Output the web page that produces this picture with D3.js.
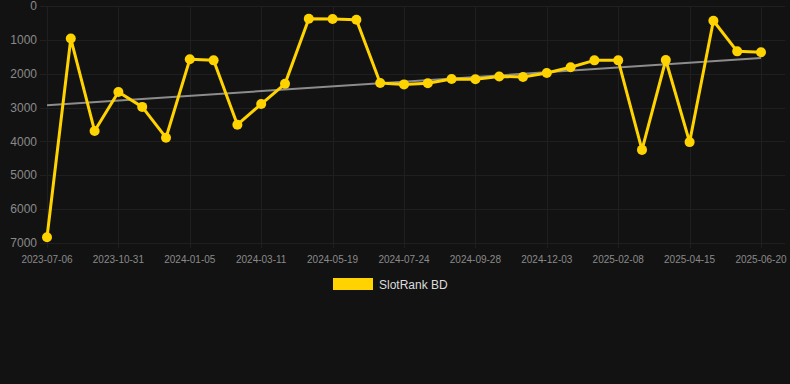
<!DOCTYPE html>
<html lang="en">
<head>
    <meta charset="utf-8">
    <title>SlotRank BD</title>
    <script src="https://d3js.org/d3.v7.min.js"></script>
    <style>
        html, body {
            margin: 0;
            padding: 0;
            background: #121212;
        }
        text {
            font-family: Arial, "Liberation Sans", sans-serif;
        }
        .grid line {
            stroke: #1f1f1f;
            stroke-width: 1px;
            shape-rendering: crispEdges;
        }
    </style>
</head>
<body>
<script type="text/javascript">

    // dates (only every 3rd one is labelled on the axis)
    var dates = [
        "2023-07-06", "2023-08-14", "2023-09-22", "2023-10-31", "2023-11-22", "2023-12-14",
        "2024-01-05", "2024-01-27", "2024-02-18", "2024-03-11", "2024-04-03", "2024-04-26",
        "2024-05-19", "2024-06-10", "2024-07-02", "2024-07-24", "2024-08-15", "2024-09-06",
        "2024-09-28", "2024-10-20", "2024-11-11", "2024-12-03", "2024-12-25", "2025-01-17",
        "2025-02-08", "2025-03-02", "2025-03-24", "2025-04-15", "2025-05-07", "2025-05-29",
        "2025-06-20"
    ];
    var ranks = [
        6830, 960, 3690, 2540, 2980, 3890,
        1575, 1605, 3505, 2895, 2300, 375,
        385, 405, 2275, 2315, 2280, 2155,
        2165, 2080, 2095, 1980, 1810, 1605,
        1605, 4250, 1595, 4020, 435, 1340,
        1365
    ];
    var yTicks = [0, 1000, 2000, 3000, 4000, 5000, 6000, 7000];
    var seriesName = "SlotRank BD";

    var w = 790, h = 384;
    var plotLeft = 47, plotRight = 761, plotTop = 6, plotBottom = 243;

    var svg = d3.select("body").append("svg")
        .attr("width", w)
        .attr("height", h);

    var xScale = d3.scalePoint()
        .domain(dates)
        .range([plotLeft, plotRight]);

    var yScale = d3.scaleLinear()
        .domain([0, 7000])
        .range([plotTop, plotBottom]);

    var labelled = dates.filter(function(d, i) { return i % 3 === 0; });

    // grid
    svg.append("g").attr("class", "grid")
        .selectAll("line.h")
        .data(yTicks)
        .enter().append("line")
        .attr("x1", 40).attr("x2", 785)
        .attr("y1", function(d) { return Math.round(yScale(d)) + 0.5; })
        .attr("y2", function(d) { return Math.round(yScale(d)) + 0.5; });

    svg.append("g").attr("class", "grid")
        .selectAll("line.v")
        .data(labelled)
        .enter().append("line")
        .attr("x1", function(d) { return Math.round(xScale(d)) + 0.5; })
        .attr("x2", function(d) { return Math.round(xScale(d)) + 0.5; })
        .attr("y1", plotTop).attr("y2", plotBottom + 5);

    // y labels
    svg.append("g")
        .selectAll("text")
        .data(yTicks)
        .enter().append("text")
        .attr("x", 37)
        .attr("y", function(d) { return yScale(d); })
        .attr("dy", "0.35em")
        .attr("text-anchor", "end")
        .attr("fill", "#8a8a8a")
        .style("font-size", "12px")
        .text(function(d) { return d; });

    // x labels
    svg.append("g")
        .selectAll("text")
        .data(labelled)
        .enter().append("text")
        .attr("x", function(d) { return xScale(d); })
        .attr("y", 263)
        .attr("text-anchor", "middle")
        .attr("fill", "#8a8a8a")
        .style("font-size", "10px")
        .text(function(d) { return d; });

    // trend line (least squares on index)
    var n = ranks.length;
    var mx = d3.mean(d3.range(n));
    var my = d3.mean(ranks);
    var sxy = d3.sum(ranks, function(v, i) { return (i - mx) * (v - my); });
    var sxx = d3.sum(d3.range(n), function(i) { return (i - mx) * (i - mx); });
    var slope = sxy / sxx;
    var icpt = my - slope * mx;

    svg.append("line")
        .attr("x1", xScale(dates[0]))
        .attr("y1", yScale(icpt))
        .attr("x2", xScale(dates[n - 1]))
        .attr("y2", yScale(icpt + slope * (n - 1)))
        .attr("stroke", "#8c8c8c")
        .attr("stroke-width", 2);

    var line = d3.line()
        .x(function(d, i) { return xScale(dates[i]); })
        .y(function(d) { return yScale(d); });

    svg.append("path")
        .datum(ranks)
        .attr("d", line)
        .attr("fill", "none")
        .attr("stroke", "#ffd300")
        .attr("stroke-width", 3)
        .attr("stroke-linejoin", "round");

    svg.append("g")
        .selectAll("circle")
        .data(ranks)
        .enter().append("circle")
        .attr("cx", function(d, i) { return xScale(dates[i]); })
        .attr("cy", function(d) { return yScale(d); })
        .attr("r", 5)
        .attr("fill", "#ffd300");

    // legend
    svg.append("rect")
        .attr("x", 333).attr("y", 278)
        .attr("width", 40).attr("height", 12)
        .attr("fill", "#ffd300");

    svg.append("text")
        .attr("x", 379).attr("y", 289)
        .attr("fill", "#dcdcdc")
        .style("font-size", "12px")
        .text(seriesName);

</script>
</body>
</html>
